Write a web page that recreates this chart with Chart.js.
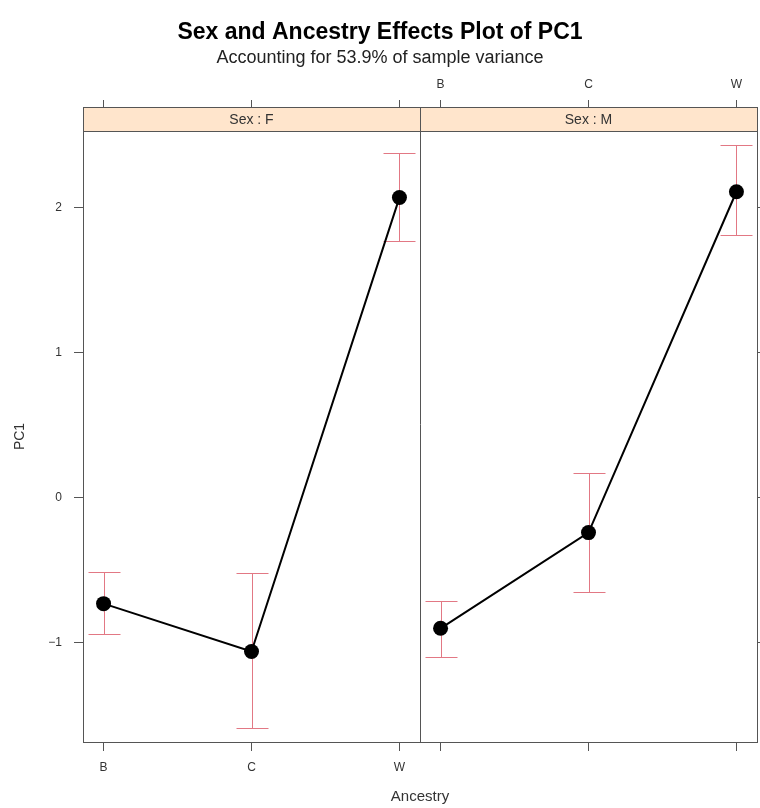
<!DOCTYPE html>
<html><head><meta charset="utf-8">
<script src="https://cdn.jsdelivr.net/npm/chart.js@4.4.1/dist/chart.umd.min.js"></script>
<style>html,body{margin:0;padding:0;background:#fff}#wrap{width:760px;height:808px}</style>
</head><body><div id="wrap"><canvas id="c" width="760" height="808"></canvas></div>
<script>
// ---- data ----
const ancestry = ['B', 'C', 'W'];
const sexLevels = ['F', 'M'];
const meanF  = [-0.73, -1.06, 2.07];
const lowerF = [-0.94, -1.59, 1.77];
const upperF = [-0.51, -0.52, 2.38];
const meanM  = [-0.90, -0.24, 2.11];
const lowerM = [-1.10, -0.65, 1.81];
const upperM = [-0.71, 0.17, 2.43];
const yTickValues = [-1, 0, 1, 2];
const titleText = 'Sex and Ancestry Effects Plot of PC1';
const subtitleText = 'Accounting for 53.9% of sample variance';
const xTitle = 'Ancestry';
const yTitle = 'PC1';

const FONT = "'Liberation Sans', Arial, Helvetica, sans-serif";
Chart.defaults.font.family = FONT;
Chart.defaults.color = '#333';

const Y_MIN = -1.684, Y_MAX = 2.529;
const X_MIN = -0.139, X_MAX = 2.139;
const AXIS = '#555';

function xTicks(s) { s.ticks = ancestry.map((a, i) => ({ value: i })); }
function yTicks(s) { s.ticks = yTickValues.map(v => ({ value: v })); }
function noPad(s) { s.paddingLeft = 0; s.paddingRight = 0; }

function xAxis(position, stack, showLabels, tickLen, pad, height) {
  return {
    type: 'linear', position, stack, min: X_MIN, max: X_MAX,
    afterBuildTicks: xTicks,
    afterFit: s => { s.height = height; noPad(s); },
    grid: { drawOnChartArea: false, drawTicks: true, tickLength: tickLen, tickColor: AXIS, tickWidth: 1 },
    border: { display: true, color: AXIS, width: 1 },
    ticks: {
      autoSkip: false, maxRotation: 0, padding: pad,
      color: showLabels ? '#333' : 'rgba(0,0,0,0)',
      font: { size: 12 },
      callback: v => ancestry[v] ?? ''
    }
  };
}

const toXY = arr => arr.map((v, i) => ({ x: i, y: v }));

const errorBars = {
  id: 'errorBars',
  beforeDatasetsDraw(chart) {
    const ctx = chart.ctx, y = chart.scales.y;
    const sets = [
      { x: chart.scales.xF, lo: lowerF, hi: upperF },
      { x: chart.scales.xM, lo: lowerM, hi: upperM }
    ];
    ctx.save();
    ctx.strokeStyle = '#e27884';
    ctx.lineWidth = 1;
    sets.forEach(s => {
      ancestry.forEach((a, i) => {
        const px = Math.round(s.x.getPixelForValue(i)) + 0.5;
        const y1 = Math.round(y.getPixelForValue(s.lo[i])) + 0.5;
        const y2 = Math.round(y.getPixelForValue(s.hi[i])) + 0.5;
        const hw = 16;
        ctx.beginPath();
        ctx.moveTo(px, y1); ctx.lineTo(px, y2);
        ctx.moveTo(px - hw, y1); ctx.lineTo(px + hw, y1);
        ctx.moveTo(px - hw, y2); ctx.lineTo(px + hw, y2);
        ctx.stroke();
      });
    });
    ctx.restore();
  }
};

const strips = {
  id: 'strips',
  afterDraw(chart) {
    const { ctx, chartArea } = chart;
    const h = 24;
    const top = chartArea.top - h;
    const panels = [chart.scales.xF, chart.scales.xM];
    ctx.save();
    panels.forEach((s, i) => {
      ctx.fillStyle = '#ffe5cc';
      ctx.fillRect(s.left, top, s.right - s.left, h);
      ctx.fillStyle = '#333';
      ctx.font = '14px ' + FONT;
      ctx.textAlign = 'center';
      ctx.textBaseline = 'middle';
      ctx.fillText('Sex : ' + sexLevels[i], (s.left + s.right) / 2, top + h / 2 + 1);
    });
    ctx.strokeStyle = AXIS;
    ctx.lineWidth = 1;
    const l = Math.round(chartArea.left) + 0.5;
    const r = Math.round(chartArea.right) + 0.5;
    ctx.strokeRect(l, Math.round(top) + 0.5, r - l, h);
    const dx = Math.round(chart.scales.xM.left) + 0.5;
    ctx.beginPath();
    ctx.moveTo(dx, top); ctx.lineTo(dx, chartArea.bottom);
    ctx.stroke();
    // x axis title, centred under both panels
    ctx.fillStyle = '#333';
    ctx.font = '15px ' + FONT;
    ctx.textAlign = 'center';
    ctx.textBaseline = 'middle';
    ctx.fillText(xTitle, (chartArea.left + chartArea.right) / 2, 797);
    ctx.restore();
  }
};

new Chart(document.getElementById('c'), {
  type: 'line',
  data: {
    datasets: [
      {
        label: 'Sex : F', data: toXY(meanF), xAxisID: 'xF', yAxisID: 'y',
        borderColor: '#000', borderWidth: 2, pointRadius: 7.5,
        pointBackgroundColor: '#000', pointBorderColor: '#000', pointBorderWidth: 0, tension: 0
      },
      {
        label: 'Sex : M', data: toXY(meanM), xAxisID: 'xM', yAxisID: 'y',
        borderColor: '#000', borderWidth: 2, pointRadius: 7.5,
        pointBackgroundColor: '#000', pointBorderColor: '#000', pointBorderWidth: 0, tension: 0
      }
    ]
  },
  options: {
    responsive: false, animation: false, devicePixelRatio: 1,
    layout: { padding: 0, autoPadding: false },
    plugins: {
      legend: { display: false },
      tooltip: { enabled: false },
      title: {
        display: true, text: titleText, color: '#000',
        font: { size: 23, weight: 'bold', lineHeight: 1.2 },
        padding: { top: 19, bottom: 0 }
      },
      subtitle: {
        display: true, text: subtitleText, color: '#222',
        font: { size: 18, lineHeight: 1.2 },
        padding: { top: 1, bottom: 0 }
      }
    },
    scales: {
      xF: xAxis('bottom', 'bottomRow', true, 9, 9, 66),
      xM: xAxis('bottom', 'bottomRow', false, 9, 9, 66),
      // top boxes are laid out in reverse order: the M panel's axis is declared first
      xMt: xAxis('top', 'topRow', true, 31, 8, 61.8),
      xFt: xAxis('top', 'topRow', false, 31, 8, 61.8),
      y: {
        type: 'linear', position: 'left', min: Y_MIN, max: Y_MAX,
        afterBuildTicks: yTicks,
        afterFit: s => { s.width = 83; noPad(s); },
        grid: { drawOnChartArea: false, drawTicks: true, tickLength: 9, tickColor: AXIS },
        border: { display: true, color: AXIS, width: 1 },
        ticks: { padding: 12, color: '#333', font: { size: 12 }, callback: v => String(v).replace('-', '\u2212') },
        title: { display: true, text: yTitle, color: '#333', font: { size: 14, lineHeight: 1.2 }, padding: { top: 12, bottom: 0 } }
      },
      y2: {
        type: 'linear', position: 'right', min: Y_MIN, max: Y_MAX,
        afterBuildTicks: yTicks,
        afterFit: s => { s.width = 3; noPad(s); },
        grid: { drawOnChartArea: false, drawTicks: true, tickLength: 4, tickColor: AXIS },
        border: { display: true, color: AXIS, width: 1 },
        ticks: { display: false }
      }
    }
  },
  plugins: [errorBars, strips]
});
</script>
</body></html>
